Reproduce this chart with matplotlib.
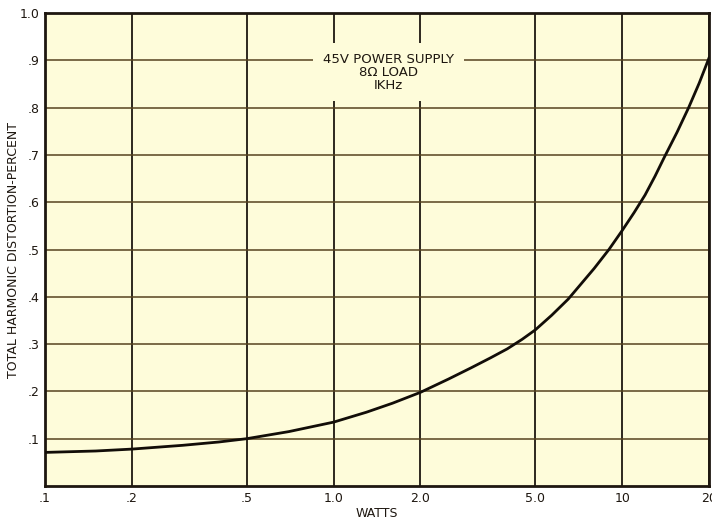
import matplotlib
matplotlib.use("Agg")
import matplotlib.pyplot as plt
from matplotlib.ticker import FixedLocator, FixedFormatter, NullLocator

# values
watts = [0.1, 0.15, 0.2, 0.3, 0.4, 0.5, 0.7, 1.0, 1.3, 1.6, 2.0, 2.5, 3.0, 3.5, 4.0, 4.5, 5.0,
         5.7, 6.5, 7.2, 8.0, 9.0, 10.0, 11.0, 12.0, 13.0, 14.0, 15.5, 17.0, 18.5, 20.0]
thd_percent = [0.071, 0.074, 0.078, 0.086, 0.093, 0.100, 0.115, 0.135, 0.156, 0.175, 0.198,
               0.226, 0.250, 0.271, 0.290, 0.310, 0.330, 0.361, 0.395, 0.427, 0.460, 0.500,
               0.540, 0.578, 0.615, 0.655, 0.695, 0.748, 0.800, 0.852, 0.905]

x_ticks = [0.1, 0.2, 0.5, 1.0, 2.0, 5.0, 10, 20]
x_labels = [".1", ".2", ".5", "1.0", "2.0", "5.0", "10", "20"]
y_ticks = [0.1, 0.2, 0.3, 0.4, 0.5, 0.6, 0.7, 0.8, 0.9, 1.0]
y_labels = [".1", ".2", ".3", ".4", ".5", ".6", ".7", ".8", ".9", "1.0"]

paper = "#fefcda"
ink = "#1e1710"

fig = plt.figure(figsize=(7.12, 5.21), dpi=100)
ax = fig.add_axes([0.0632, 0.0672, 0.9326, 0.9078])
ax.set_facecolor(paper)

ax.set_xscale("log")
ax.set_xlim(0.1, 20)
ax.set_ylim(0, 1.0)

ax.xaxis.set_major_locator(FixedLocator(x_ticks))
ax.xaxis.set_major_formatter(FixedFormatter(x_labels))
ax.xaxis.set_minor_locator(NullLocator())
ax.yaxis.set_major_locator(FixedLocator(y_ticks))
ax.yaxis.set_major_formatter(FixedFormatter(y_labels))
ax.tick_params(length=0, labelsize=9, colors=ink, pad=4)

ax.grid(True, axis="x", color=ink, linewidth=1.3)
ax.grid(True, axis="y", color="#56421f", linewidth=1.1)
for spine in ax.spines.values():
    spine.set_color(ink)
    spine.set_linewidth(2)

ax.plot(watts, thd_percent, color="#120d08", linewidth=2.0, zorder=4)

ax.set_xlabel("WATTS", fontsize=9, color=ink, labelpad=2)
ax.set_ylabel("TOTAL HARMONIC DISTORTION-PERCENT", fontsize=9, color=ink, labelpad=0)

ax.text(1.55, 0.875, "45V POWER SUPPLY\n8\u03a9 LOAD\nIKHz", ha="center", va="center",
        fontsize=9.5, color=ink, linespacing=1.0, zorder=5,
        bbox=dict(facecolor=paper, edgecolor="none", pad=7))

fig.savefig("out.png", dpi=100)
